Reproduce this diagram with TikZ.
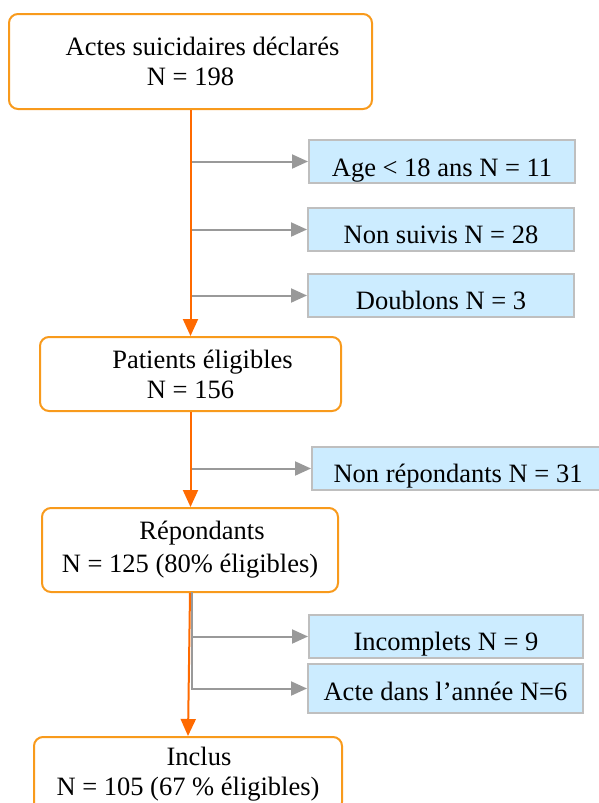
\documentclass[tikz,border=0pt]{standalone}
\usepackage{fontspec}
\setmainfont{Liberation Serif}
\usetikzlibrary{arrows.meta}
\definecolor{boxorange}{HTML}{F89A1C}
\definecolor{lineorange}{HTML}{FF6A00}
\definecolor{linegray}{HTML}{999999}
\definecolor{bluefill}{HTML}{CCECFF}
\definecolor{blueborder}{HTML}{BFBFBF}
\tikzset{
  mainbox/.style={draw=boxorange, line width=2pt, rounded corners=9pt, fill=white,
    inner sep=0pt, align=center, font=\fontsize{26.5}{30}\selectfont},
  exclbox/.style={draw=blueborder, line width=2pt, fill=bluefill, inner sep=0pt,
    minimum height=43pt, text height=27pt, text depth=0pt,
    font=\fontsize{26.5}{30}\selectfont},
  orangearrow/.style={draw=lineorange, line width=2pt, -{Triangle[length=17pt,width=15pt]}},
  grayarrow/.style={draw=linegray, line width=2pt, -{Triangle[length=16pt,width=14pt]}},
  grayline/.style={draw=linegray, line width=2pt}
}
\begin{document}
\begin{tikzpicture}[x=1pt,y=-1pt]
\useasboundingbox (0,0) rectangle (599,803);
% main boxes
\node[mainbox, minimum width=363pt, minimum height=95pt] (box1) at (190.5,61.5)
  {\hspace*{24pt}Actes suicidaires déclarés\\N = 198};
\node[mainbox, minimum width=301pt, minimum height=74pt] (box2) at (190.5,374)
  {\hspace*{24pt}Patients éligibles\\N = 156};
\node[mainbox, minimum width=296pt, minimum height=84pt, font=\fontsize{26.5}{33}\selectfont] (box3) at (190,550)
  {\hspace*{24pt}Répondants\\N = 125 (80\% éligibles)};
\node[mainbox, minimum width=308pt, minimum height=74pt] (box4) at (188,774)
  {\hspace*{22pt}Inclus\\N = 105 (67 \% éligibles)};
% exclusion boxes
\node[exclbox, minimum width=266pt, text height=29pt] (ex1) at (442,161.5) {Age < 18 ans N = 11};
\node[exclbox, minimum width=266pt] (ex2) at (441,229.5) {Non suivis N = 28};
\node[exclbox, minimum width=266pt] (ex3) at (441,295.5) {Doublons N = 3};
\node[exclbox, minimum width=292pt] (ex4) at (458,468.5) {Non répondants N = 31};
\node[exclbox, minimum width=274pt] (ex5) at (446,636.5) {Incomplets N = 9};
\node[exclbox, minimum width=275pt, minimum height=49pt, text height=23pt] (ex6) at (445.5,688.5) {Acte dans l’année N=6};
% branch points
\coordinate (c1) at (191,161.5);
\coordinate (c2) at (191,229.5);
\coordinate (c3) at (191,295.5);
\coordinate (c4) at (191,468.5);
\coordinate (g0) at (192,592);
\coordinate (g1) at (192,636.5);
\coordinate (g2) at (192,688.5);
% gray connectors
\draw[grayarrow] (c1) -- (ex1.west);
\draw[grayarrow] (c2) -- (ex2.west);
\draw[grayarrow] (c3) -- (ex3.west);
\draw[grayarrow] (c4) -- (ex4.west);
\draw[grayarrow] (g0) -- (g1) -- (ex5.west);
\draw[grayarrow] (g1) -- (g2) -- (ex6.west);
% orange connectors
\draw[orangearrow] (box1.south) -- (box2.north);
\draw[orangearrow] (box2.south) -- (box2.south |- box3.north);
\draw[orangearrow] (box3.south) -- (box4.north);
\end{tikzpicture}
\end{document}
